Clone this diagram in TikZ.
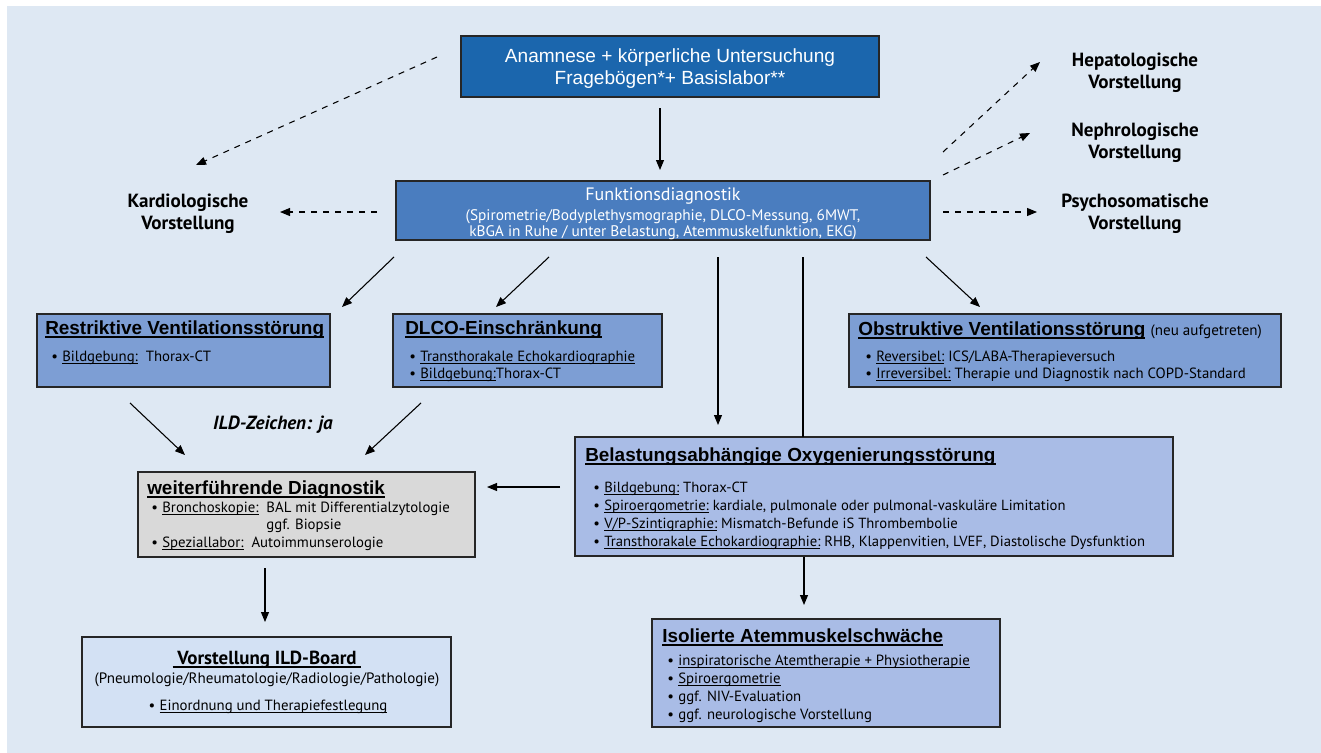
\documentclass[tikz,border=0pt]{standalone}
\usepackage{fontspec}
\setmainfont{PT Sans}
\newfontfamily\hv{Liberation Sans}
\usetikzlibrary{arrows.meta,fit}
\definecolor{bgc}{HTML}{DEE8F3}
\definecolor{topc}{HTML}{1B66AD}
\definecolor{fdc}{HTML}{4A7DBF}
\definecolor{midc}{HTML}{7D9ED4}
\definecolor{lightc}{HTML}{A9BCE6}
\definecolor{grayc}{HTML}{D9D9D9}
\definecolor{ildc}{HTML}{D3E1F4}
\newcommand\bl{\makebox[8.3pt][l]{\textbullet}}
\newcommand\ul[1]{\setbox0\hbox{#1}\rlap{\rule[-2pt]{\wd0}{0.6pt}}\box0\relax}
\newcommand\hul[1]{\setbox0\hbox{#1}\rlap{\rule[-3pt]{\wd0}{1.2pt}}\box0\relax}
\begin{document}
\begin{tikzpicture}[x=0.75pt,y=-0.75pt,
  box/.style={draw=black!85, line width=0.9pt, inner sep=0pt},
  txt/.style={anchor=base west, inner sep=0pt, align=left},
  ctxt/.style={anchor=base, inner sep=0pt, align=center},
  head/.style={font=\hv\bfseries\fontsize{14.2}{16}\selectfont},
  body/.style={font=\fontsize{11.1}{12.75}\selectfont},
  lab/.style={ctxt, font=\bfseries\fontsize{14.3}{16.5}\selectfont},
  arr/.style={line width=0.8pt, -{Triangle[length=7.5pt,width=6pt]}},
  darr/.style={arr, dash pattern=on 4.5pt off 4.5pt}]
\useasboundingbox (0,0) rectangle (1321,753);
\fill[bgc] (7,6) rectangle (1321,753);

% boxes
\node[box, fill=topc, fit={(461,36) (879,97)}] (top) {};
\node[box, fill=fdc, fit={(396,181) (930,240)}] (fd) {};
\node[box, fill=midc, fit={(37,314) (330,387)}] (rv) {};
\node[box, fill=midc, fit={(393,314) (662,387)}] (dl) {};
\node[box, fill=midc, fit={(849,314) (1281,387)}] (ov) {};
\node[box, fill=grayc, fit={(138,472) (475,557)}] (wd) {};
\node[box, fill=lightc, fit={(575,437) (1173,556)}] (bo) {};
\node[box, fill=ildc, fit={(82,637) (451,727)}] (ild) {};
\node[box, fill=lightc, fit={(652,619) (1000,727)}] (ia) {};

% top text (anchor = baseline of last line)
\node[ctxt, text=white, font=\hv\fontsize{14.3}{15.8}\selectfont] (toptxt) at (670,84)
  {Anamnese + körperliche Untersuchung\\Fragebögen*+ Basislabor**};
% Funktionsdiagnostik
\node[ctxt, text=white, font=\fontsize{13.5}{16}\selectfont] (fdt) at (663,200) {Funktionsdiagnostik};
\node[ctxt, text=white, font=\fontsize{11.5}{12}\selectfont] (fds) at (663,236)
  {(Spirometrie/Bodyplethysmographie, DLCO-Messung, 6MWT,\\kBGA in Ruhe / unter Belastung, Atemmuskelfunktion, EKG)};

% Restriktive
\node[txt, head] (rvt) at (45,334) {\hul{Restriktive Ventilationsstörung}};
\node[txt, body] (rvb) at (51,361) {\bl\ul{Bildgebung:}\ \ Thorax-CT};
% DLCO
\node[txt, head] (dlt) at (405,334) {\hul{DLCO-Einschränkung}};
\node[txt, body] (dlb) at (409,378) {\bl\ul{Transthorakale Echokardiographie}\\\bl\ul{Bildgebung:}Thorax-CT};
% Obstruktive
\node[txt, head] (ovt) at (858,335) {\hul{Obstruktive Ventilationsstörung}\ {\rmfamily\mdseries\fontsize{11.3}{12}\selectfont(neu aufgetreten)}};
\node[txt, body] (ovb) at (865,378) {\bl\ul{Reversibel:} ICS/LABA-Therapieversuch\\\bl\ul{Irreversibel:} Therapie und Diagnostik nach COPD-Standard};
% weiterfuehrende
\node[txt, head] (wdt) at (147,494) {\hul{weiterführende Diagnostik}};
\node[txt, body, font=\fontsize{11.1}{13.1}\selectfont] (wdb) at (151,547) {\bl\ul{Bronchoskopie:}\ \ BAL mit Differentialzytologie\\\hphantom{\bl\ul{Bronchoskopie:}\ \ }ggf. Biopsie\\\bl\ul{Speziallabor:}\ \ Autoimmunserologie};
% Belastung
\node[txt, head] (bot) at (585,461) {\hul{Belastungsabhängige Oxygenierungsstörung}};
\node[txt, body, font=\fontsize{11}{13.5}\selectfont] (bob) at (593,546) {\bl\ul{Bildgebung:} Thorax-CT\\\bl\ul{Spiroergometrie:} kardiale, pulmonale oder pulmonal-vaskuläre Limitation\\\bl\ul{V/P-Szintigraphie:} Mismatch-Befunde iS Thrombembolie\\\bl\ul{Transthorakale Echokardiographie:} RHB, Klappenvitien, LVEF, Diastolische Dysfunktion};
% ILD board
\node[ctxt, font=\bfseries\fontsize{14.2}{15}\selectfont] (ildt) at (267,664) {\hul{\ Vorstellung ILD-Board\ }};
\node[ctxt, font=\fontsize{11.3}{14}\selectfont] (ilds) at (267,683) {(Pneumologie/Rheumatologie/Radiologie/Pathologie)};
\node[ctxt, body] (ildb) at (268,710) {\bl\ul{Einordnung und Therapiefestlegung}};
% Isolierte
\node[txt, head] (iat) at (662,642) {\hul{Isolierte Atemmuskelschwäche}};
\node[txt, body, font=\fontsize{11.1}{13.5}\selectfont] (iab) at (667,719) {\bl\ul{inspiratorische Atemtherapie + Physiotherapie}\\\bl\ul{Spiroergometrie}\\\bl ggf. NIV-Evaluation\\\bl ggf. neurologische Vorstellung};

% labels
\node[lab] (kard) at (188,229) {Kardiologische\\Vorstellung};
\node[lab] (hep) at (1135,88) {Hepatologische\\Vorstellung};
\node[lab] (neph) at (1135,158) {Nephrologische\\Vorstellung};
\node[lab] (psy) at (1135,229) {Psychosomatische\\Vorstellung};
\node[ctxt, font=\bfseries\itshape\fontsize{14.3}{16}\selectfont] (ildz) at (273,429) {ILD-Zeichen: ja};

% arrow end points
\coordinate (a1s) at (660,108); \coordinate (a1e) at (660,170);
\coordinate (d1s) at (437,57);  \coordinate (d1e) at (196,165);
\coordinate (d2s) at (377,212); \coordinate (d2e) at (280,212);
\coordinate (d3s) at (943,152); \coordinate (d3e) at (1040,62);
\coordinate (d4s) at (943,175); \coordinate (d4e) at (1030,133);
\coordinate (d5s) at (943,212); \coordinate (d5e) at (1037,212);
\coordinate (r1s) at (394,257); \coordinate (r1e) at (342,307);
\coordinate (r2s) at (549,257); \coordinate (r2e) at (496,307);
\coordinate (r3s) at (718,257); \coordinate (r3e) at (718,425);
\coordinate (r4s) at (803,257); \coordinate (r4e) at (803,437);
\coordinate (r5s) at (926,257); \coordinate (r5e) at (980,307);
\coordinate (w1s) at (130,403); \coordinate (w1e) at (185,455);
\coordinate (w2s) at (421,403); \coordinate (w2e) at (365,455);
\coordinate (w3s) at (560,487); \coordinate (w3e) at (487,487);
\coordinate (i1s) at (265,568); \coordinate (i1e) at (265,622);
\coordinate (i2s) at (804,557); \coordinate (i2e) at (804,605);

\draw[arr] (a1s) -- (a1e);
\draw[darr] (d1s) -- (d1e);
\draw[darr] (d2s) -- (d2e);
\draw[darr] (d3s) -- (d3e);
\draw[darr] (d4s) -- (d4e);
\draw[darr] (d5s) -- (d5e);
\draw[arr] (r1s) -- (r1e);
\draw[arr] (r2s) -- (r2e);
\draw[arr] (r3s) -- (r3e);
\draw[line width=0.8pt] (r4s) -- (r4e);
\draw[arr] (r5s) -- (r5e);
\draw[arr] (w1s) -- (w1e);
\draw[arr] (w2s) -- (w2e);
\draw[arr] (w3s) -- (w3e);
\draw[arr] (i1s) -- (i1e);
\draw[arr] (i2s) -- (i2e);
\end{tikzpicture}
\end{document}
